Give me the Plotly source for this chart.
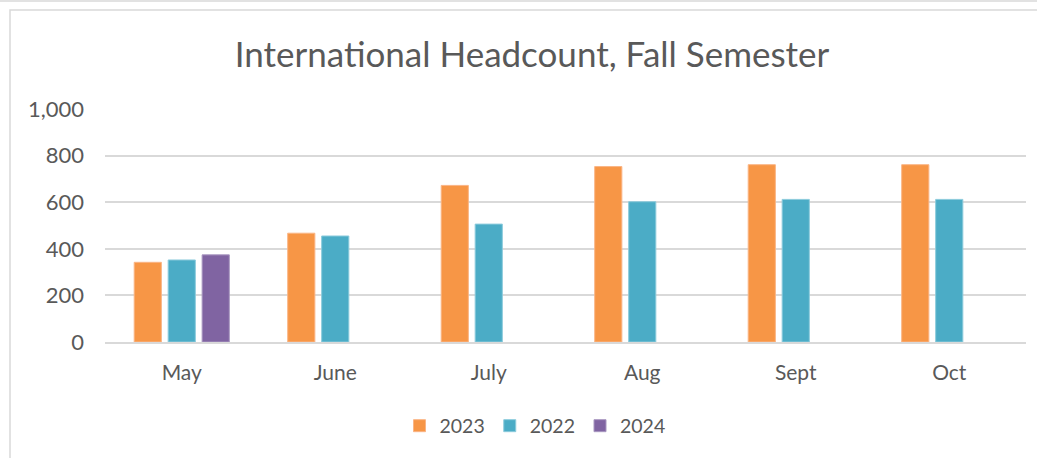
import plotly.graph_objects as go

months = ["May", "June", "July", "Aug", "Sept", "Oct"]
v2023 = [342, 467, 672, 753, 761, 761]
v2022 = [352, 455, 506, 602, 612, 612]
v2024 = [374, None, None, None, None, None]
y_ticks = [0, 200, 400, 600, 800, 1000]
y_labels = ["0", "200", "400", "600", "800", "1,000"]

W, H = 1037, 458
L, R, T, B = 105, 11, 109, 116
pw, ph = W - L - R, H - T - B

def px_x(x):
    return (x - L) / pw

def px_y(y):
    return (H - B - y) / ph

fig = go.Figure()
fig.add_trace(go.Bar(name="2023", x=months, y=v2023, marker=dict(color="#F79646", line=dict(color="#FAB585", width=1))))
fig.add_trace(go.Bar(name="2022", x=months, y=v2022, marker=dict(color="#4BACC6", line=dict(color="#8CCBDC", width=1))))
fig.add_trace(go.Bar(name="2024", x=months, y=v2024, marker=dict(color="#8064A2", line=dict(color="#A897C0", width=1))))

font_family = "Lato, Open Sans, sans-serif"
fig.update_layout(
    width=W, height=H,
    margin=dict(l=L, r=R, t=T, b=B),
    paper_bgcolor="white", plot_bgcolor="white",
    barmode="group", bargap=0.336, bargroupgap=0.2,
    title=dict(text="International Headcount, Fall Semester", x=532 / W, xref="container", xanchor="center",
               y=1 - 55 / H, yref="container", yanchor="middle",
               font=dict(family=font_family, size=35, color="#595959")),
    font=dict(family=font_family, color="#595959"),
    showlegend=True,
    legend=dict(orientation="h", x=px_x(535), xanchor="center", y=px_y(426), yanchor="middle",
                font=dict(size=19.5, color="#595959"), itemwidth=30, traceorder="normal"),
    yaxis=dict(range=[0, 1000], tickvals=y_ticks, ticktext=y_labels, showgrid=True,
               gridcolor="#D9D9D9", gridwidth=1.5, zeroline=False, showline=False,
               tickfont=dict(size=22, color="#595959"), ticklabelstandoff=20, fixedrange=True),
    xaxis=dict(showgrid=False, showline=True, linecolor="#D9D9D9", linewidth=1.5,
               tickfont=dict(size=21, color="#595959"), ticklabelstandoff=11, ticks=""),
    shapes=[
        dict(type="rect", xref="paper", yref="paper", x0=px_x(10), x1=px_x(1060), y0=px_y(500), y1=px_y(10),
             line=dict(color="#D9D9D9", width=1.5), fillcolor="rgba(0,0,0,0)", layer="below"),
        dict(type="line", xref="paper", yref="paper", x0=px_x(-10), x1=px_x(1060), y0=px_y(1), y1=px_y(1),
             line=dict(color="#D9D9D9", width=1.5)),
    ],
)

fig.write_html("out.html", config={"displayModeBar": False},
               post_script="document.body.style.margin='0';document.body.style.overflow='hidden';")
